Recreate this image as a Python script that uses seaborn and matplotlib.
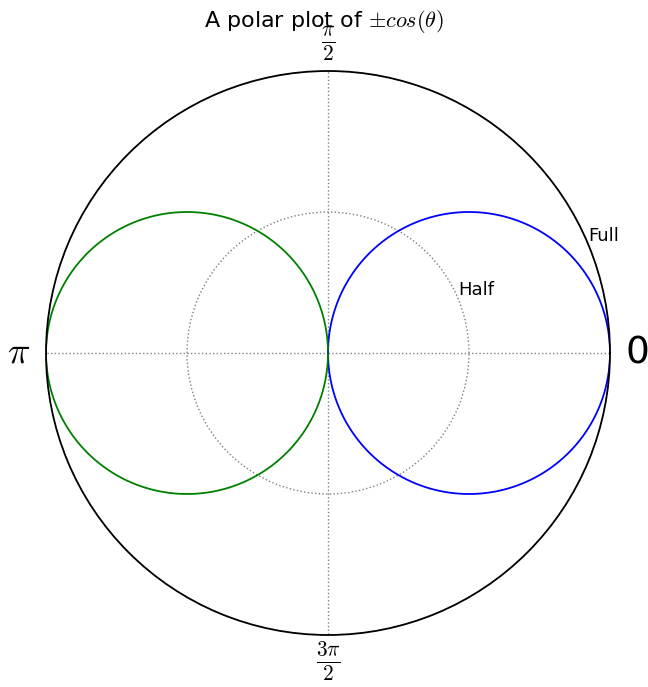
import numpy as np
import matplotlib
matplotlib.use("Agg")
import matplotlib.pyplot as plt
import seaborn as sns

sns.set_style("white")
plt.rcParams['font.family'] = ['DejaVu Sans']
plt.rcParams['mathtext.fontset'] = 'cm'
plt.rcParams['text.color'] = 'black'
plt.rcParams['xtick.labelcolor'] = 'black'
plt.rcParams['ytick.labelcolor'] = 'black'

# curve data: r = +cos(theta) on the right, r = -cos(theta) on the left
theta_pos = np.linspace(-np.pi / 2, np.pi / 2, 361)
r_pos = np.cos(theta_pos)
theta_neg = np.linspace(np.pi / 2, 3 * np.pi / 2, 361)
r_neg = -np.cos(theta_neg)

theta_ticks = [0, np.pi / 2, np.pi, 3 * np.pi / 2]
theta_labels = ['0', r'$\frac{\pi}{2}$', r'$\pi$', r'$\frac{3\pi}{2}$']
r_ticks = [0.5, 1.0]
r_labels = ['Half', 'Full']

fig = plt.figure(figsize=(6.48, 6.87), dpi=100)
ax = fig.add_axes([46 / 648, 52 / 687, 564 / 648, 564 / 687], projection='polar')

sns.lineplot(x=theta_pos, y=r_pos, ax=ax, sort=False, estimator=None,
             color='blue', lw=1.3)
sns.lineplot(x=theta_neg, y=r_neg, ax=ax, sort=False, estimator=None,
             color='green', lw=1.3)

ax.set_rlim(0, 1)
ax.set_xticks(theta_ticks)
ax.set_xticklabels(theta_labels, fontsize=22)
# the plain 0 and pi labels look larger than the fractions
for lab in ax.get_xticklabels()[0::2]:
    lab.set_fontsize(27)
ax.set_rgrids(r_ticks, labels=r_labels, angle=22.5, fontsize=13)
ax.tick_params(axis='x', pad=9)
ax.grid(True, color='gray', linestyle=':', lw=1)
ax.spines['polar'].set_color('black')
ax.spines['polar'].set_linewidth(1.3)
ax.set_xlabel('')
ax.set_ylabel('')

fig.suptitle(r'A polar plot of $\pm cos(\theta)$', y=0.988, fontsize=16)

fig.savefig('out.png', dpi=100)
